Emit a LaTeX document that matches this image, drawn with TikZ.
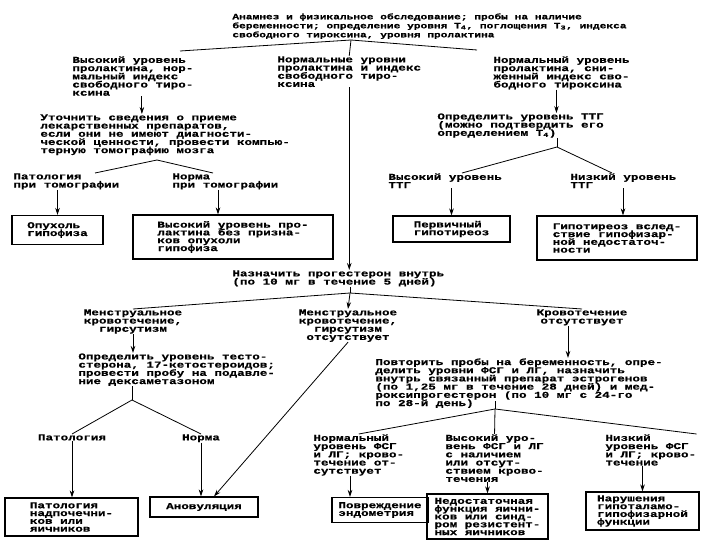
\documentclass[tikz,border=0pt]{standalone}
\usepackage{fontspec}
\newfontfamily\scanfont{Liberation Mono}[FakeStretch=1.4, BoldFeatures={FakeBold=0.6}]
\usetikzlibrary{arrows.meta}
\lineskiplimit=-20pt

\begin{document}
\begin{tikzpicture}[x=1pt, y=-1pt, line width=0.8pt,
        txt/.style={inner sep=0pt, anchor=north west, align=left, font=\scanfont\bfseries\fontsize{9}{8.2}\selectfont},
        ctxt/.style={txt, anchor=north, align=center},
        hdr/.style={txt, font=\scanfont\bfseries\fontsize{8}{9}\selectfont},
        box/.style={draw, line width=1.1pt, inner sep=0pt, align=left, font=\scanfont\bfseries\fontsize{9}{7.8}\selectfont},
        arr/.style={-{Stealth[length=7pt, width=4.5pt]}}
    ]
        \useasboundingbox (0,0) rectangle (720,540);
        \fill[white] (0,0) rectangle (720,540);

        \node[hdr] (exam) at (232,13) {Анамнез и физикальное обследование; пробы на наличие\\
        беременности; определение уровня T\textsubscript{4}, поглощения T\textsubscript{3}, индекса\\
        свободного тироксина, уровня пролактина};

        \node[txt] (prlhi) at (72,56) {Высокий уровень\\пролактина, нор-\\мальный индекс\\свободного тиро-\\ксина};
        \node[txt] (prlnorm) at (277,56) {Нормальные уровни\\пролактина и индекс\\свободного тиро-\\ксина};
        \node[txt] (tiroxlo) at (493,56) {Нормальный уровень\\пролактина, сни-\\женный индекс сво-\\бодного тироксина};

        \node[txt] (drugs) at (40,114) {Уточнить сведения о приеме\\лекарственных препаратов,\\если они не имеют диагности-\\ческой ценности, провести компью-\\терную томографию мозга};
        \node[txt] (tshdet) at (437,113) {Определить уровень ТТГ\\(можно подтвердить его\\определением T\textsubscript{4})};

        \node[txt] (ctpat) at (13,173) {Патология\\при томографии};
        \node[txt] (ctnorm) at (172,173) {Норма\\при томографии};
        \node[txt] (tshhi) at (388,173) {Высокий уровень\\ТТГ};
        \node[txt] (tshlo) at (570,173) {Низкий уровень\\ТТГ};

        \node[box, minimum width=91pt, minimum height=29pt] (tumor) at (57.5,230) {Опухоль\\гипофиза};
        \node[box, minimum width=200pt, minimum height=44pt] (prlonly) at (233,237) {Высокий уровень про-\\лактина без призна-\\ков опухоли\\гипофиза};
        \node[box, minimum width=117pt, minimum height=26pt] (primhypo) at (451.5,229) {Первичный\\гипотиреоз};
        \node[box, minimum width=160pt, minimum height=44pt] (sechypo) at (617,238) {Гипотиреоз вслед-\\ствие гипофизар-\\ной недостаточ-\\ности};

        \node[txt] (progest) at (232,270) {Назначить прогестерон внутрь\\(по 10 мг в течение 5 дней)};
        \node[ctxt] (bleedhirs) at (133,309) {Менструальное\\кровотечение,\\гирсутизм};
        \node[ctxt] (bleednohirs) at (348,309) {Менструальное\\кровотечение,\\гирсутизм\\отсутствует};
        \node[ctxt] (nobleed) at (582,309) {Кровотечение\\отсутствует};

        \node[txt] (testost) at (78,353) {Определить уровень тесто-\\стерона, 17-кетостероидов;\\провести пробу на подавле-\\ние дексаметазоном};
        \node[txt] (retest) at (375,358) {Повторить пробы на беременность, опре-\\делить уровни ФСГ и ЛГ, назначить\\внутрь связанный препарат эстрогенов\\(по 1,25 мг в течение 28 дней) и мед-\\роксипрогестерон (по 10 мг с 24-го\\по 28-й день)};

        \node[ctxt] (adrpat) at (72,434) {Патология};
        \node[ctxt] (adrnorm) at (201,434) {Норма};
        \node[txt] (fshnorm) at (313,434) {Нормальный\\уровень ФСГ\\и ЛГ; крово-\\течение от-\\сутствует};
        \node[txt] (fshhigh) at (445,434) {Высокий уро-\\вень ФСГ и ЛГ\\с наличием\\или отсут-\\ствием крово-\\течения};
        \node[txt] (fshlow) at (605,434) {Низкий\\уровень ФСГ\\и ЛГ; крово-\\течение};

        \node[box, minimum width=133pt, minimum height=38pt] (ovadr) at (71.5,517) {Патология\\надпочечни-\\ков или\\яичников};
        \node[box, minimum width=108pt, minimum height=20pt] (anovul) at (204,507) {Ановуляция};
        \node[box, minimum width=96pt, minimum height=25pt] (endom) at (380,510) {Повреждение\\эндометрия};
        \node[box, minimum width=121pt, minimum height=45pt] (ovfail) at (487.5,516.5) {Недостаточная\\функция яични-\\ков или синд-\\ром резистент-\\ных яичников};
        \node[box, minimum width=113pt, minimum height=38pt] (hypoth) at (642.5,511) {Нарушения\\гипоталамо-\\гипофизарной\\функции};

        \coordinate (j0) at (351,40);
        \coordinate (b0l) at (180,51);
        \coordinate (b0r) at (477,50);
        \draw (b0l) -- (j0) -- (b0r);
        \draw (j0) -- (prlnorm.north);
        \draw[arr] (prlnorm.south) -- (prlnorm.south |- progest.north);
        \draw[arr] ([xshift=9pt]prlhi.south) -- ([xshift=9pt]prlhi.south |- drugs.north);
        \draw[arr] ([xshift=-5pt]tiroxlo.south) -- ([xshift=-5pt]tiroxlo.south |- tshdet.north);

        \coordinate (j1) at (157,160);
        \coordinate (b1l) at (95,173);
        \coordinate (b1r) at (213,173);
        \draw (b1l) -- (j1) -- (b1r);
        \draw[arr] (tumor.north |- ctpat.south) -- (tumor.north);
        \draw[arr] ([xshift=-15pt]prlonly.north |- ctnorm.south) -- ([xshift=-15pt]prlonly.north);

        \coordinate (j2) at (557,147);
        \coordinate (b2l) at (462,173);
        \coordinate (b2r) at (612,173);
        \draw (tshdet.south -| j2) -- (j2);
        \draw (b2l) -- (j2) -- (b2r);
        \draw[arr] (primhypo.north |- tshhi.south) -- (primhypo.north);
        \draw[arr] ([xshift=6pt]sechypo.north |- tshlo.south) -- ([xshift=6pt]sechypo.north);

        \coordinate (j3) at (350,293);
        \draw (progest.south -| j3) -- (j3);
        \draw (bleedhirs.north) -- (j3) -- (nobleed.north);
        \draw[arr] (j3) -- (bleednohirs.north);
        \draw[arr] (bleedhirs.south) -- (bleedhirs.south |- testost.north);
        \draw[arr] (bleednohirs.south) -- ([xshift=10pt]anovul.north);
        \draw[arr] ([xshift=-14pt]nobleed.south) -- ([xshift=-14pt]nobleed.south |- retest.north);

        \coordinate (j4) at (132,400);
        \draw (testost.south -| j4) -- (j4);
        \draw (adrpat.north) -- (j4) -- (adrnorm.north);
        \draw[arr] (adrpat.south) -- (adrpat.south |- ovadr.north);
        \draw[arr] (adrnorm.south) -- (adrnorm.south |- anovul.north);

        \coordinate (j5) at (495,409);
        \coordinate (j5a) at (495,401);
        \draw (j5a) -- (j5);
        \draw (fshnorm.north) -- (j5) -- (fshlow.north east);
        \draw (j5) -- (fshhigh.north);
        \draw[arr] ([xshift=-30pt]endom.north |- fshnorm.south) -- ([xshift=-30pt]endom.north);
        \draw[arr] (fshhigh.south -| ovfail.north) -- (ovfail.north);
        \draw[arr] (hypoth.north |- fshlow.south) -- (hypoth.north);
    \end{tikzpicture}
\end{document}
